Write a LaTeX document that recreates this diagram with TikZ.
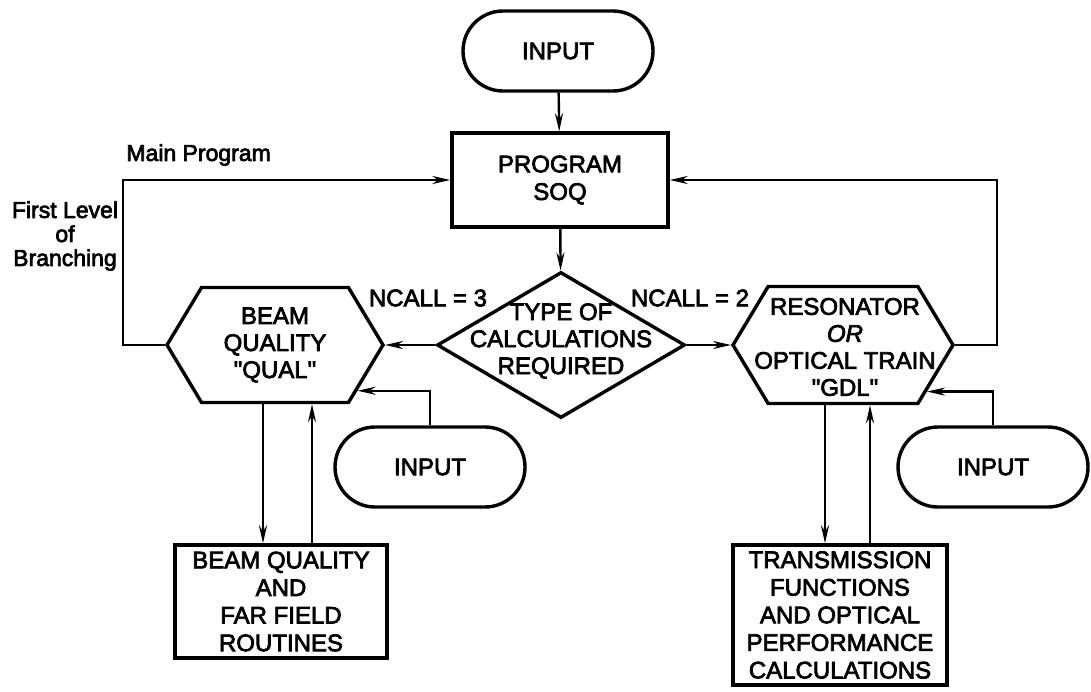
\documentclass[tikz,border=0pt]{standalone}
\usepackage{fontspec}
\setmainfont{Liberation Sans}
\newfontfamily\chartfont{Liberation Sans}[UprightFeatures={FakeBold=3}, ItalicFeatures={FakeBold=3}]
\usetikzlibrary{arrows.meta,shapes.geometric,shapes.misc,shapes.symbols}

\begin{document}
\begin{tikzpicture}[x=0.5pt,y=-0.5pt]
	\tikzstyle{terminal} = [
		rounded rectangle, draw, line width = 1.7pt,
		inner sep = 0pt, minimum width = 95pt, minimum height = 40pt,
		font = \chartfont\fontsize{12}{13.5}\selectfont
	]
	\tikzstyle{process} = [
		rectangle, draw, line width = 1.7pt, inner sep = 0pt, align = center,
		font = \chartfont\fontsize{12}{13.8}\selectfont
	]
	\tikzstyle{routine} = [
		signal, signal to = east and west, signal pointer angle = 118,
		draw, line width = 1.7pt, inner sep = 0pt,
		minimum width = 108pt, minimum height = 57.5pt
	]
	\tikzstyle{decision} = [
		diamond, draw, line width = 1.7pt, inner sep = 0pt,
		minimum width = 124pt, minimum height = 73pt
	]
	\tikzstyle{words} = [inner sep = 0pt, align = center, font = \chartfont\fontsize{12}{13.5}\selectfont]
	\tikzstyle{note} = [inner sep = 0pt, align = center, font = \chartfont\fontsize{11.5}{12}\selectfont]
	\tikzstyle{line} = [-{Stealth[length = 9pt, width = 4pt]}, line width = 1.2pt]

	\useasboundingbox (0,0) rectangle (1091,691);

	% main program
	\node[terminal] (in1) at (558,51) {INPUT};
	\node[process, minimum width = 108pt, minimum height = 47pt] (prog) at (560,180) {PROGRAM\\SOQ};
	\node[decision] (type) at (561,345) {};
	\node[words] (typetext) at (561,341) {TYPE OF\\CALCULATIONS\\REQUIRED};

	% first level of branching
	\node[routine] (qual) at (275,345) {};
	\node[words] (qualtext) at (275,345) {BEAM\\QUALITY\\\textquotedbl QUAL\textquotedbl};
	\node[routine, minimum width = 110pt, minimum height = 58.5pt] (gdl) at (843,345) {};
	\node[words] (gdltext) at (845,347) {RESONATOR\\\textit{OR}\\OPTICAL TRAIN\\\textquotedbl GDL\textquotedbl};
	\node[terminal] (in2) at (430,467) {INPUT};
	\node[terminal] (in3) at (993,467) {INPUT};
	\node[process, minimum width = 106pt, minimum height = 56.5pt] (bq) at (281,601.5) {BEAM QUALITY\\AND\\FAR FIELD\\ROUTINES};
	\node[process, minimum width = 107pt, minimum height = 70pt] (trans) at (840,615) {TRANSMISSION\\FUNCTIONS\\AND OPTICAL\\PERFORMANCE\\CALCULATIONS};

	% labels
	\node[note, anchor = west] (mainlbl) at (126,155) {Main Program};
	\node[note] (levellbl) at (65,236) {First Level\\of\\Branching};
	\node[words] (ncall3) at (428,298) {NCALL = 3};
	\node[words] (ncall2) at (690,298) {NCALL = 2};

	\draw (in1) to (prog) [line];
	\draw (prog) to (type) [line];
	\draw (type) to (qual) [line];
	\draw (type) to (gdl) [line];
	\draw (qual.west) -- ++(-42,0) |- (prog.west) [line];
	\draw (gdl.east) -- ++(42,0) |- (prog.east) [line];
	\draw (in2.north) |- (qual.-29.5) [line];
	\draw (in3.north) |- (gdl.-29) [line];
	\draw ([xshift = -6pt]qual.south) -- ([xshift = -6pt]qual.south |- bq.north) [line];
	\draw ([xshift = 18.5pt]qual.south |- bq.north) -- ([xshift = 18.5pt]qual.south) [line];
	\draw ([xshift = -9pt]gdl.south) -- ([xshift = -9pt]gdl.south |- trans.north) [line];
	\draw ([xshift = 13.5pt]gdl.south |- trans.north) -- ([xshift = 13.5pt]gdl.south) [line];
\end{tikzpicture}
\end{document}
